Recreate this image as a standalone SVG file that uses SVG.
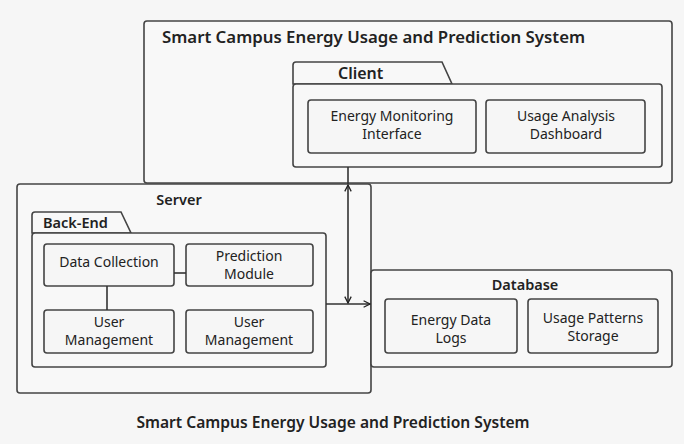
<svg xmlns="http://www.w3.org/2000/svg" width="684" height="444" viewBox="0 0 684 444">
  <defs>
    <marker id="arrow" viewBox="0 0 10 10" refX="9" refY="5" markerWidth="8" markerHeight="8" orient="auto-start-reverse" markerUnits="userSpaceOnUse">
      <path d="M1,1 L9,5 L1,9" fill="none" stroke="#222" stroke-width="1.6"/>
    </marker>
    <style>
      .frame { fill: #f8f8f8; stroke: #444; stroke-width: 1.6; }
      .comp { fill: #f6f6f6; stroke: #444; stroke-width: 1.6; }
      .t { font-family: "Noto Sans", "Open Sans", sans-serif; fill: #222; }
      .title { font-size: 16.8px; font-weight: 600; }
      .head { font-size: 14.5px; font-weight: 600; }
      .caption { font-size: 15.6px; font-weight: 600; }
      .lbl { font-size: 14px; text-anchor: middle; }
      .line { stroke: #333; stroke-width: 1.6; fill: none; }
    </style>
  </defs>
  <rect width="684" height="444" fill="#f6f6f6"/>

  <!-- System boundary -->
  <g id="system">
    <rect class="frame" x="144" y="21" width="528" height="162" rx="3"/>
    <text class="t title" x="162" y="43">Smart Campus Energy Usage and Prediction System</text>
  </g>

  <!-- Client package -->
  <g id="client">
    <path class="frame" d="M293,84 L293,65 Q293,62 296,62 L442,62 L452,84 Z"/>
    <rect class="frame" x="293" y="84" width="369" height="83" rx="3"/>
    <text class="t head" x="338" y="79" style="font-size:16px">Client</text>
  </g>
  <g id="energy-monitoring">
    <rect class="comp" x="308" y="100" width="168" height="53" rx="3"/>
    <text class="t lbl" x="392" y="121">Energy Monitoring</text>
    <text class="t lbl" x="392" y="139">Interface</text>
  </g>
  <g id="usage-dashboard">
    <rect class="comp" x="486" y="100" width="159" height="53" rx="3"/>
    <text class="t lbl" x="566" y="121">Usage Analysis</text>
    <text class="t lbl" x="566" y="139">Dashboard</text>
  </g>

  <!-- Server node -->
  <g id="server">
    <rect class="frame" x="17" y="184" width="354" height="209" rx="3"/>
    <text class="t head" x="179" y="205" text-anchor="middle">Server</text>
  </g>
  <g id="back-end">
    <path class="frame" d="M32,233 L32,215 Q32,212 35,212 L121,212 L131,233 Z"/>
    <rect class="frame" x="32" y="233" width="294" height="134" rx="3"/>
    <text class="t head" x="43" y="228">Back-End</text>
  </g>
  <g id="data-collection">
    <rect class="comp" x="44" y="244" width="130" height="42" rx="3"/>
    <text class="t lbl" x="109" y="267">Data Collection</text>
  </g>
  <g id="prediction-module">
    <rect class="comp" x="186" y="244" width="127" height="42" rx="3"/>
    <text class="t lbl" x="249" y="261">Prediction</text>
    <text class="t lbl" x="249" y="279">Module</text>
  </g>
  <g id="user-management-1">
    <rect class="comp" x="44" y="310" width="130" height="43" rx="3"/>
    <text class="t lbl" x="109" y="327">User</text>
    <text class="t lbl" x="109" y="345">Management</text>
  </g>
  <g id="user-management-2">
    <rect class="comp" x="186" y="310" width="127" height="43" rx="3"/>
    <text class="t lbl" x="249" y="327">User</text>
    <text class="t lbl" x="249" y="345">Management</text>
  </g>

  <!-- Database node -->
  <g id="database">
    <rect class="frame" x="371" y="270" width="301" height="97" rx="3"/>
    <text class="t head" x="525" y="290" text-anchor="middle">Database</text>
  </g>
  <g id="energy-data-logs">
    <rect class="comp" x="385" y="299" width="132" height="54" rx="3"/>
    <text class="t lbl" x="451" y="325">Energy Data</text>
    <text class="t lbl" x="451" y="343">Logs</text>
  </g>
  <g id="usage-patterns">
    <rect class="comp" x="528" y="299" width="130" height="54" rx="3"/>
    <text class="t lbl" x="593" y="323">Usage Patterns</text>
    <text class="t lbl" x="593" y="341">Storage</text>
  </g>

  <!-- Connectors -->
  <g id="connectors">
    <line class="line" x1="174" y1="273" x2="186" y2="273"/>
    <line class="line" x1="107" y1="286" x2="107" y2="310"/>
    <line class="line" x1="326" y1="304" x2="370" y2="304" marker-end="url(#arrow)"/>
    <line class="line" x1="348" y1="167" x2="348" y2="184"/>
    <line class="line" x1="348" y1="185" x2="348" y2="303" marker-start="url(#arrow)" marker-end="url(#arrow)"/>
  </g>

  <text class="t caption" x="333" y="428" text-anchor="middle">Smart Campus Energy Usage and Prediction System</text>
</svg>
